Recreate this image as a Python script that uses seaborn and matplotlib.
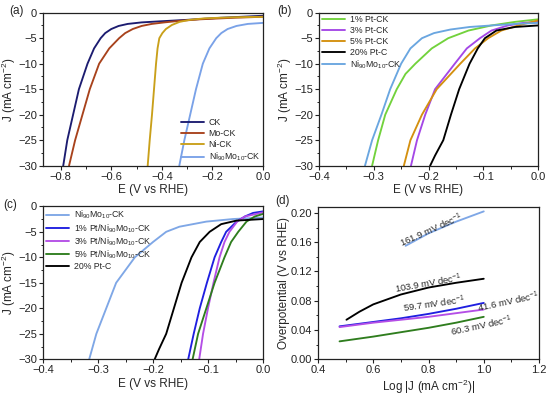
import numpy as np
import pandas as pd
import seaborn as sns
import matplotlib
matplotlib.use("Agg")
import matplotlib.pyplot as plt
from matplotlib.ticker import MultipleLocator

sns.set_theme(style="ticks")
plt.rcParams['font.family'] = ['Liberation Sans', 'DejaVu Sans']
plt.rcParams['mathtext.fontset'] = 'custom'
plt.rcParams['mathtext.rm'] = 'Liberation Sans'
plt.rcParams['mathtext.it'] = 'Liberation Sans:italic'
plt.rcParams['mathtext.default'] = 'regular'

# ---------------- data: panel (a) ----------------
a_ck_E = [-0.790, -0.774, -0.751, -0.728, -0.694, -0.668, -0.642, -0.624, -0.600, -0.571, -0.535, -0.48, -0.41, -0.30, -0.17, 0.0]
a_ck_J = [-30, -25, -20, -15, -10, -7, -5, -4, -3.2, -2.6, -2.2, -1.9, -1.7, -1.4, -1.0, -0.6]
a_mo_E = [-0.767, -0.743, -0.714, -0.685, -0.648, -0.608, -0.569, -0.545, -0.515, -0.48, -0.44, -0.39, -0.33, -0.25, -0.12, 0.0]
a_mo_J = [-30, -25, -20, -15, -10, -7, -5, -4, -3.2, -2.6, -2.2, -1.9, -1.6, -1.3, -1.0, -0.8]
a_ni_E = [-0.456, -0.448, -0.439, -0.431, -0.423, -0.417, -0.410, -0.398, -0.384, -0.360, -0.330, -0.29, -0.23, -0.12, 0.0]
a_ni_J = [-30, -25, -20, -15, -10, -7, -5, -4, -3.2, -2.4, -1.8, -1.4, -1.1, -0.9, -0.8]
a_nimo_E = [-0.331, -0.311, -0.288, -0.265, -0.238, -0.212, -0.185, -0.165, -0.14, -0.105, -0.06, 0.0]
a_nimo_J = [-30, -25, -20, -15, -10, -7, -5, -4, -3.2, -2.6, -2.2, -2.0]

# ---------------- data: panel (b) ----------------
b_nimo_E = [-0.316, -0.303, -0.286, -0.270, -0.250, -0.233, -0.212, -0.190, -0.160, -0.125, -0.085, -0.042, 0.0]
b_nimo_J = [-30, -25, -20, -15, -10, -7, -5, -4, -3.3, -2.8, -2.5, -2.2, -2.0]
b_pt1_E = [-0.303, -0.292, -0.279, -0.258, -0.242, -0.224, -0.194, -0.164, -0.127, -0.085, -0.042, 0.0]
b_pt1_J = [-30, -25, -20, -15, -12, -10, -7, -5, -3.5, -2.5, -1.8, -1.3]
b_pt3_E = [-0.232, -0.221, -0.206, -0.188, -0.152, -0.130, -0.106, -0.085, -0.055, -0.027, 0.0]
b_pt3_J = [-30, -25, -20, -15, -10, -7, -5, -3.5, -2.5, -2.0, -1.8]
b_pt5_E = [-0.245, -0.233, -0.212, -0.185, -0.142, -0.115, -0.091, -0.067, -0.036, 0.0]
b_pt5_J = [-30, -25, -20, -15, -10, -7, -5, -3.5, -2.5, -1.5]
b_ptc_E = [-0.197, -0.188, -0.173, -0.159, -0.144, -0.125, -0.110, -0.097, -0.076, -0.042, 0.0]
b_ptc_J = [-30, -28, -25, -20, -15, -10, -7, -5, -3.5, -2.8, -2.5]

# ---------------- data: panel (c) ----------------
c_nimo_E = [-0.316, -0.303, -0.285, -0.267, -0.233, -0.200, -0.176, -0.152, -0.103, -0.055, 0.0]
c_nimo_J = [-30, -25, -20, -15, -10, -7, -5, -4, -3, -2.5, -2.2]
c_pt1_E = [-0.136, -0.126, -0.115, -0.102, -0.088, -0.076, -0.067, -0.048, -0.033, -0.018, 0.0]
c_pt1_J = [-30, -25, -20, -15, -10, -7, -5, -3, -2, -1.3, -1.0]
c_pt3_E = [-0.116, -0.109, -0.100, -0.090, -0.079, -0.070, -0.061, -0.047, -0.033, 0.0]
c_pt3_J = [-30, -25, -20, -15, -10, -7, -5, -3, -2, -1.2]
c_pt5_E = [-0.128, -0.118, -0.103, -0.088, -0.070, -0.058, -0.045, -0.030, -0.015, 0.0]
c_pt5_J = [-30, -25, -20, -15, -10, -7, -5, -3, -2, -1.5]
c_ptc_E = [-0.197, -0.189, -0.176, -0.162, -0.148, -0.130, -0.115, -0.097, -0.076, -0.048, 0.0]
c_ptc_J = [-30, -28, -25, -20, -15, -10, -7, -5, -3.5, -2.8, -2.5]

# ---------------- data: panel (d) Tafel ----------------
d_nimo_x = [0.717, 0.80, 0.90, 1.00]
d_nimo_y = [0.155, 0.172, 0.188, 0.202]
d_ptc_x = [0.503, 0.55, 0.60, 0.70, 0.80, 0.90, 1.00]
d_ptc_y = [0.054, 0.065, 0.075, 0.0885, 0.0980, 0.1045, 0.110]
d_pt1_x = [0.478, 0.60, 0.70, 0.80, 0.90, 1.00]
d_pt1_y = [0.045, 0.051, 0.056, 0.062, 0.069, 0.077]
d_pt3_x = [0.478, 0.60, 0.70, 0.80, 0.90, 1.00]
d_pt3_y = [0.044, 0.050, 0.054, 0.058, 0.063, 0.068]
d_pt5_x = [0.478, 0.60, 0.70, 0.80, 0.90, 1.00]
d_pt5_y = [0.0245, 0.031, 0.037, 0.043, 0.050, 0.058]
d_slopes = ["161.9 mV dec$^{-1}$", "103.9 mV dec$^{-1}$", "59.7 mV dec$^{-1}$",
            "41.6 mV dec$^{-1}$", "60.3 mV dec$^{-1}$"]

NIMO = "Ni$_{90}$Mo$_{10}$-CK"

fig = plt.figure(figsize=(5.5, 3.97), dpi=100)
W, H = 550.0, 397.0
def box(l, t, r, b):
    return [l / W, 1 - b / H, (r - l) / W, (b - t) / H]

ax_a = fig.add_axes(box(43, 12.7, 263, 165.7))
ax_b = fig.add_axes(box(319, 12.7, 538, 165.7))
ax_c = fig.add_axes(box(43, 206.3, 263, 359.3))
ax_d = fig.add_axes(box(318, 207, 539, 359.3))

LW = 1.35
def draw(ax, E, J, color, label):
    df = pd.DataFrame({"E": E, "J": J})
    sns.lineplot(data=df, x="E", y="J", ax=ax, color=color, lw=LW, label=label,
                 sort=False, estimator=None)

# panel a
draw(ax_a, a_ck_E, a_ck_J, "#1c1c70", "CK")
draw(ax_a, a_mo_E, a_mo_J, "#a8421c", "Mo-CK")
draw(ax_a, a_ni_E, a_ni_J, "#c9a01a", "Ni-CK")
draw(ax_a, a_nimo_E, a_nimo_J, "#7aa2e8", NIMO)

# panel b
draw(ax_b, b_pt1_E, b_pt1_J, "#72d23c", "1% Pt-CK")
draw(ax_b, b_pt3_E, b_pt3_J, "#a447e6", "3% Pt-CK")
draw(ax_b, b_pt5_E, b_pt5_J, "#d4900f", "5% Pt-CK")
draw(ax_b, b_ptc_E, b_ptc_J, "#000000", "20% Pt-C")
draw(ax_b, b_nimo_E, b_nimo_J, "#6aa6e0", NIMO)

# panel c
draw(ax_c, c_nimo_E, c_nimo_J, "#7fa7e6", NIMO)
draw(ax_c, c_pt1_E, c_pt1_J, "#1f1fe0", "1% Pt/Ni$_{90}$Mo$_{10}$-CK")
draw(ax_c, c_pt3_E, c_pt3_J, "#b44ee6", "3% Pt/Ni$_{90}$Mo$_{10}$-CK")
draw(ax_c, c_pt5_E, c_pt5_J, "#2f7d1e", "5% Pt/Ni$_{90}$Mo$_{10}$-CK")
draw(ax_c, c_ptc_E, c_ptc_J, "#000000", "20% Pt-C")

# panel d
for x, y, col in [(d_nimo_x, d_nimo_y, "#7fa7e6"), (d_ptc_x, d_ptc_y, "#000000"),
                  (d_pt1_x, d_pt1_y, "#1f1fe0"), (d_pt3_x, d_pt3_y, "#b44ee6"),
                  (d_pt5_x, d_pt5_y, "#2f7d1e")]:
    df = pd.DataFrame({"x": x, "y": y})
    sns.lineplot(data=df, x="x", y="y", ax=ax_d, color=col, lw=LW, sort=False, estimator=None)

ann_pos = [(0.81, 0.177, 24), (0.80, 0.103, 10), (0.82, 0.075, 8), (1.09, 0.078, 12), (0.99, 0.046, 12)]
for txt, (x, y, rot) in zip(d_slopes, ann_pos):
    ax_d.text(x, y, txt, fontsize=6.8, rotation=rot, ha="center", va="center",
              rotation_mode="anchor")

TICK_FS = 8
LAB_FS = 8.5
jlabel = "J (mA cm$^{-2}$)"
for ax in (ax_a, ax_b, ax_c):
    ax.set_ylim(-30, 0)
    ax.yaxis.set_major_locator(MultipleLocator(5))
    ax.yaxis.set_minor_locator(MultipleLocator(2.5))
    ax.set_ylabel(jlabel, fontsize=LAB_FS)
    ax.set_xlabel("E (V vs RHE)", fontsize=LAB_FS, labelpad=2)
ax_a.set_xlim(-0.87, 0)
ax_a.xaxis.set_major_locator(MultipleLocator(0.2))
ax_a.xaxis.set_minor_locator(MultipleLocator(0.1))
for ax in (ax_b, ax_c):
    ax.set_xlim(-0.4, 0)
    ax.xaxis.set_major_locator(MultipleLocator(0.1))
    ax.xaxis.set_minor_locator(MultipleLocator(0.05))

ax_d.set_xlim(0.4, 1.2)
ax_d.set_ylim(0, 0.208)
ax_d.xaxis.set_major_locator(MultipleLocator(0.2))
ax_d.xaxis.set_minor_locator(MultipleLocator(0.1))
ax_d.yaxis.set_major_locator(MultipleLocator(0.04))
ax_d.yaxis.set_minor_locator(MultipleLocator(0.02))
ax_d.set_xlabel("Log |J (mA cm$^{-2}$)|", fontsize=LAB_FS, labelpad=2)
ax_d.set_ylabel("Overpotential (V vs RHE)", fontsize=LAB_FS)
ax_d.yaxis.set_major_formatter(matplotlib.ticker.FormatStrFormatter("%.2f"))
ax_d.xaxis.set_major_formatter(matplotlib.ticker.FormatStrFormatter("%.1f"))

# y-label positions (right edge of rotated text, in axes fraction)
ax_a.yaxis.set_label_coords((18 - 43) / 220, 0.5)
ax_c.yaxis.set_label_coords((18 - 43) / 220, 0.5)
ax_b.yaxis.set_label_coords((294 - 319) / 219, 0.5)
ax_d.yaxis.set_label_coords((290 - 318) / 221, 0.5)

for ax in (ax_a, ax_b, ax_c, ax_d):
    for s in ax.spines.values():
        s.set_visible(True)
        s.set_linewidth(0.9)
        s.set_color("#222222")
    ax.tick_params(which="major", direction="out", length=3, width=0.8, labelsize=TICK_FS,
                   pad=1.2, colors="#222222", labelcolor="#222222")
    ax.tick_params(which="minor", direction="out", length=1.8, width=0.7, colors="#222222")
    ax.tick_params(top=False, right=False, which="both")
    ax.grid(False)

leg_kw = dict(frameon=False, fontsize=6.3, handlelength=2.7, handletextpad=0.5,
              borderpad=0.2, borderaxespad=0.1)
ax_a.legend(loc="lower right", labelspacing=0.2, **leg_kw)
ax_b.legend(loc="upper left", labelspacing=0.2, **leg_kw)
ax_c.legend(loc="upper left", labelspacing=0.08, **leg_kw)
ax_d.get_legend() and ax_d.get_legend().remove()

for lab, (x, y) in zip(["(a)", "(b)", "(c)", "(d)"], [(16, 11), (285, 11), (10, 205), (282, 201)]):
    fig.text(x / W, 1 - y / H, lab, fontsize=8.5, ha="center", va="center")

fig.savefig("out.png", dpi=100)
